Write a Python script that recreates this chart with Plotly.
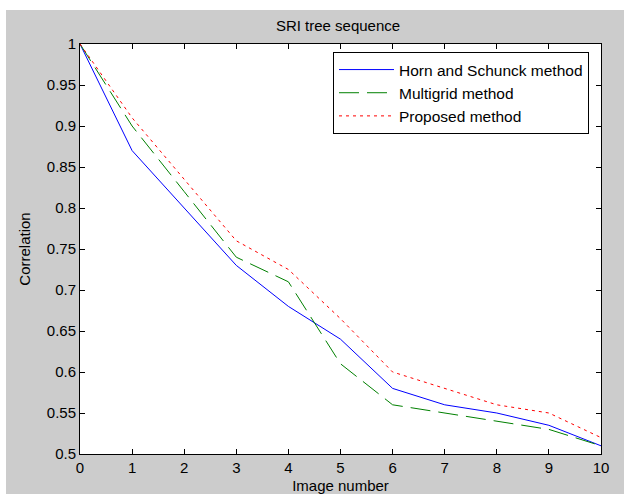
import plotly.graph_objects as go

image_number = [0, 1, 2, 3, 4, 5, 6, 7, 8, 9, 10]
horn_schunck = [1.0, 0.87, 0.80, 0.73, 0.68, 0.64, 0.58, 0.56, 0.55, 0.535, 0.51]
multigrid = [1.0, 0.90, 0.82, 0.74, 0.71, 0.61, 0.56, 0.55, 0.54, 0.53, 0.51]
proposed = [1.0, 0.91, 0.835, 0.76, 0.725, 0.665, 0.60, 0.58, 0.56, 0.55, 0.52]
y_ticks = [0.5, 0.55, 0.6, 0.65, 0.7, 0.75, 0.8, 0.85, 0.9, 0.95, 1]
y_tick_labels = ["0.5", "0.55", "0.6", "0.65", "0.7", "0.75", "0.8", "0.85", "0.9", "0.95", "1"]

FONT = "Liberation Sans, Arial, sans-serif"
FS = 15

fig = go.Figure()
fig.add_trace(go.Scatter(x=image_number, y=horn_schunck, mode="lines",
                         name="Horn and Schunck method",
                         line=dict(color="#0000ff", width=1)))
fig.add_trace(go.Scatter(x=image_number, y=multigrid, mode="lines",
                         name="Multigrid method",
                         line=dict(color="#008000", width=1, dash="20px,8px")))
fig.add_trace(go.Scatter(x=image_number, y=proposed, mode="lines",
                         name="Proposed method",
                         line=dict(color="#ff0000", width=1, dash="3px,4px")))

axis_common = dict(showgrid=False, zeroline=False, showline=True, linecolor="black",
                   linewidth=1, mirror="ticks", ticks="inside", ticklen=5, automargin=False,
                   tickcolor="black", tickfont=dict(family=FONT, size=FS, color="#000"))

L, R, T, B = 80, 23, 44, 40
PW, PH = 624 - L - R, 494 - T - B

fig.update_layout(
    width=624, height=494,
    paper_bgcolor="#cccccc", plot_bgcolor="white",
    margin=dict(l=L, r=R, t=T, b=B),
    title=dict(text="SRI tree sequence", x=(338 - L) / PW, xref="paper", xanchor="center",
               y=1 - 26 / 494, yanchor="middle",
               font=dict(family=FONT, size=FS, color="#000")),
    xaxis=dict(range=[0, 10], tickvals=image_number, title=dict(text="Image number", standoff=7,
               font=dict(family=FONT, size=FS, color="#000")), **axis_common),
    yaxis=dict(range=[0.5, 1], tickvals=y_ticks, ticktext=y_tick_labels,
               title=dict(text="Correlation", standoff=12, font=dict(family=FONT, size=FS, color="#000")),
               **axis_common),
    legend=dict(x=(589 - L) / PW, xanchor="right", y=(T + PH - 52) / PH, yanchor="top",
                bgcolor="white", bordercolor="black", borderwidth=1, itemwidth=55,
                font=dict(family=FONT, size=15.5, color="#000"), tracegroupgap=0),
    showlegend=True,
    shapes=[
        dict(type="rect", xref="paper", yref="paper", layer="above",
             x0=-L / PW - 0.01, x1=(6 - L) / PW, y0=-B / PH - 0.01, y1=1 + T / PH + 0.01,
             fillcolor="white", line=dict(width=0)),
        dict(type="rect", xref="paper", yref="paper", layer="above",
             x0=-L / PW - 0.01, x1=1 + R / PW + 0.01, y0=(T + PH - 10) / PH, y1=1 + T / PH + 0.01,
             fillcolor="white", line=dict(width=0)),
    ],
)

fig.write_html("out.html", post_script="document.body.style.margin='0';",
               config={"displayModeBar": False})
